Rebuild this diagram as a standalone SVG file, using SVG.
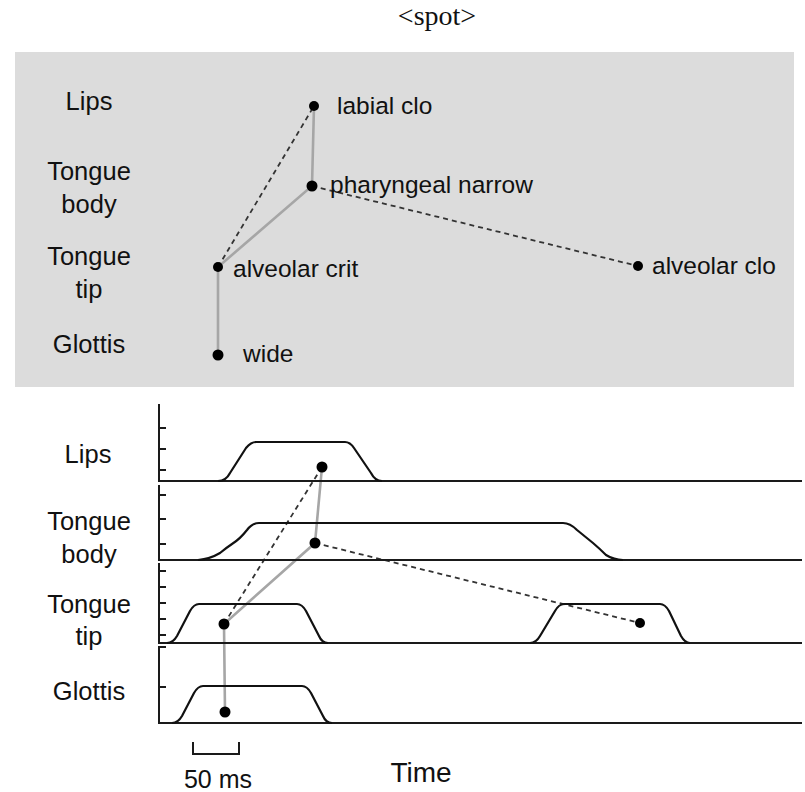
<svg xmlns="http://www.w3.org/2000/svg" width="805" height="792" viewBox="0 0 805 792">
<style>
.lbl{font-family:"Liberation Sans",Arial,sans-serif;font-size:24.5px;fill:#111}
.row{font-family:"Liberation Sans",Arial,sans-serif;font-size:25.5px;fill:#111;text-anchor:middle}
.ax{fill:none;stroke:#1a1a1a;stroke-width:2}
.cv{fill:none;stroke:#111;stroke-width:2.2;stroke-linejoin:round}
.solid{fill:none;stroke:#a6a6a6;stroke-width:2.6;stroke-linecap:round}
.dash{fill:none;stroke:#333;stroke-width:1.8;stroke-dasharray:5 4}
.dot{fill:#000}
</style>
<rect width="805" height="792" fill="#fff"/>
<text x="437" y="25" font-family="'Liberation Serif','Times New Roman',serif" font-size="28" fill="#111" text-anchor="middle">&lt;spot&gt;</text>

<g id="top-panel">
<rect x="15" y="52" width="779" height="335" fill="#dcdcdc"/>
<text class="row" x="89" y="110">Lips</text>
<text class="row" x="89" y="180">Tongue</text>
<text class="row" x="89" y="213">body</text>
<text class="row" x="89" y="265">Tongue</text>
<text class="row" x="89" y="298">tip</text>
<text class="row" x="89" y="353">Glottis</text>
</g>

<g id="connectors">
<polyline class="solid" points="314,106 312,186 218,267 218,355"/>
<line class="dash" x1="218" y1="267" x2="314" y2="106"/>
<line class="dash" x1="312" y1="186" x2="638" y2="266"/>
<polyline class="solid" points="322,467 315,543 224,624 225,712"/>
<line class="dash" x1="224" y1="624" x2="322" y2="467"/>
<line class="dash" x1="315" y1="543" x2="640" y2="623"/>
</g>

<g id="node-labial-clo">
<circle class="dot" cx="314" cy="106" r="5"/>
<text class="lbl" x="337" y="114">labial clo</text>
</g>
<g id="node-pharyngeal-narrow">
<circle class="dot" cx="312" cy="186" r="5.5"/>
<text class="lbl" x="330" y="193">pharyngeal narrow</text>
</g>
<g id="node-alveolar-crit">
<circle class="dot" cx="218" cy="267" r="5"/>
<text class="lbl" x="233" y="277">alveolar crit</text>
</g>
<g id="node-wide">
<circle class="dot" cx="218" cy="355" r="5.5"/>
<text class="lbl" x="243" y="362">wide</text>
</g>
<g id="node-alveolar-clo">
<circle class="dot" cx="638" cy="266" r="5"/>
<text class="lbl" x="652" y="274">alveolar clo</text>
</g>

<g id="track-lips">
<text class="row" x="88" y="463">Lips</text>
<path class="ax" d="M159,404 V481 H802 M159,428 h7 M159,449 h7 M159,470 h7"/>
<path class="cv" d="M218,481 Q226,481 230,473 L246,448 Q251,442 256,442 L345,442 Q350,442 354,448 L371,473 Q375,481 382,481"/>
<circle class="dot" cx="322" cy="467" r="5.5"/>
</g>
<g id="track-tongue-body">
<text class="row" x="89" y="530">Tongue</text>
<text class="row" x="89" y="563">body</text>
<path class="ax" d="M159,485 V560 H802 M159,495 h7 M159,519 h7 M159,544 h7"/>
<path class="cv" d="M198,560 Q210,559 220,553 Q226,548 232,544 Q240,539 247,530 Q252,523 259,523 L563,523 Q570,523 577,530 L593,543 Q600,549 606,555 Q614,560 623,560"/>
<circle class="dot" cx="315" cy="543" r="5.5"/>
</g>
<g id="track-tongue-tip">
<text class="row" x="89" y="613">Tongue</text>
<text class="row" x="89" y="645">tip</text>
<path class="ax" d="M159,563 V643 H802 M159,571 h7 M159,587 h7 M159,603 h7 M159,619 h7 M159,635 h7"/>
<path class="cv" d="M167,643 Q173,643 177,636 L190,611 Q194,604 199,604 L297,604 Q302,604 306,611 L319,636 Q322,643 328,643"/>
<path class="cv" d="M530,643 Q536,643 540,636 L555,611 Q559,604 564,604 L660,604 Q665,604 669,611 L681,636 Q685,643 690,643"/>
<circle class="dot" cx="224" cy="624" r="5.5"/>
<circle class="dot" cx="640" cy="623" r="5"/>
</g>
<g id="track-glottis">
<text class="row" x="89" y="700">Glottis</text>
<path class="ax" d="M166,647 H159 V723 H802 M159,687 h7"/>
<path class="cv" d="M172,723 Q178,723 182,716 L194,693 Q198,686 203,686 L302,686 Q307,686 311,693 L323,716 Q326,723 332,723"/>
<circle class="dot" cx="225" cy="712" r="5.5"/>
</g>

<g id="scale">
<path class="ax" d="M193,742 V754 H239 V742"/>
<text class="lbl" x="218" y="788" text-anchor="middle" style="font-size:25px">50 ms</text>
<text class="lbl" x="421" y="782" text-anchor="middle" style="font-size:28px">Time</text>
</g>
</svg>
